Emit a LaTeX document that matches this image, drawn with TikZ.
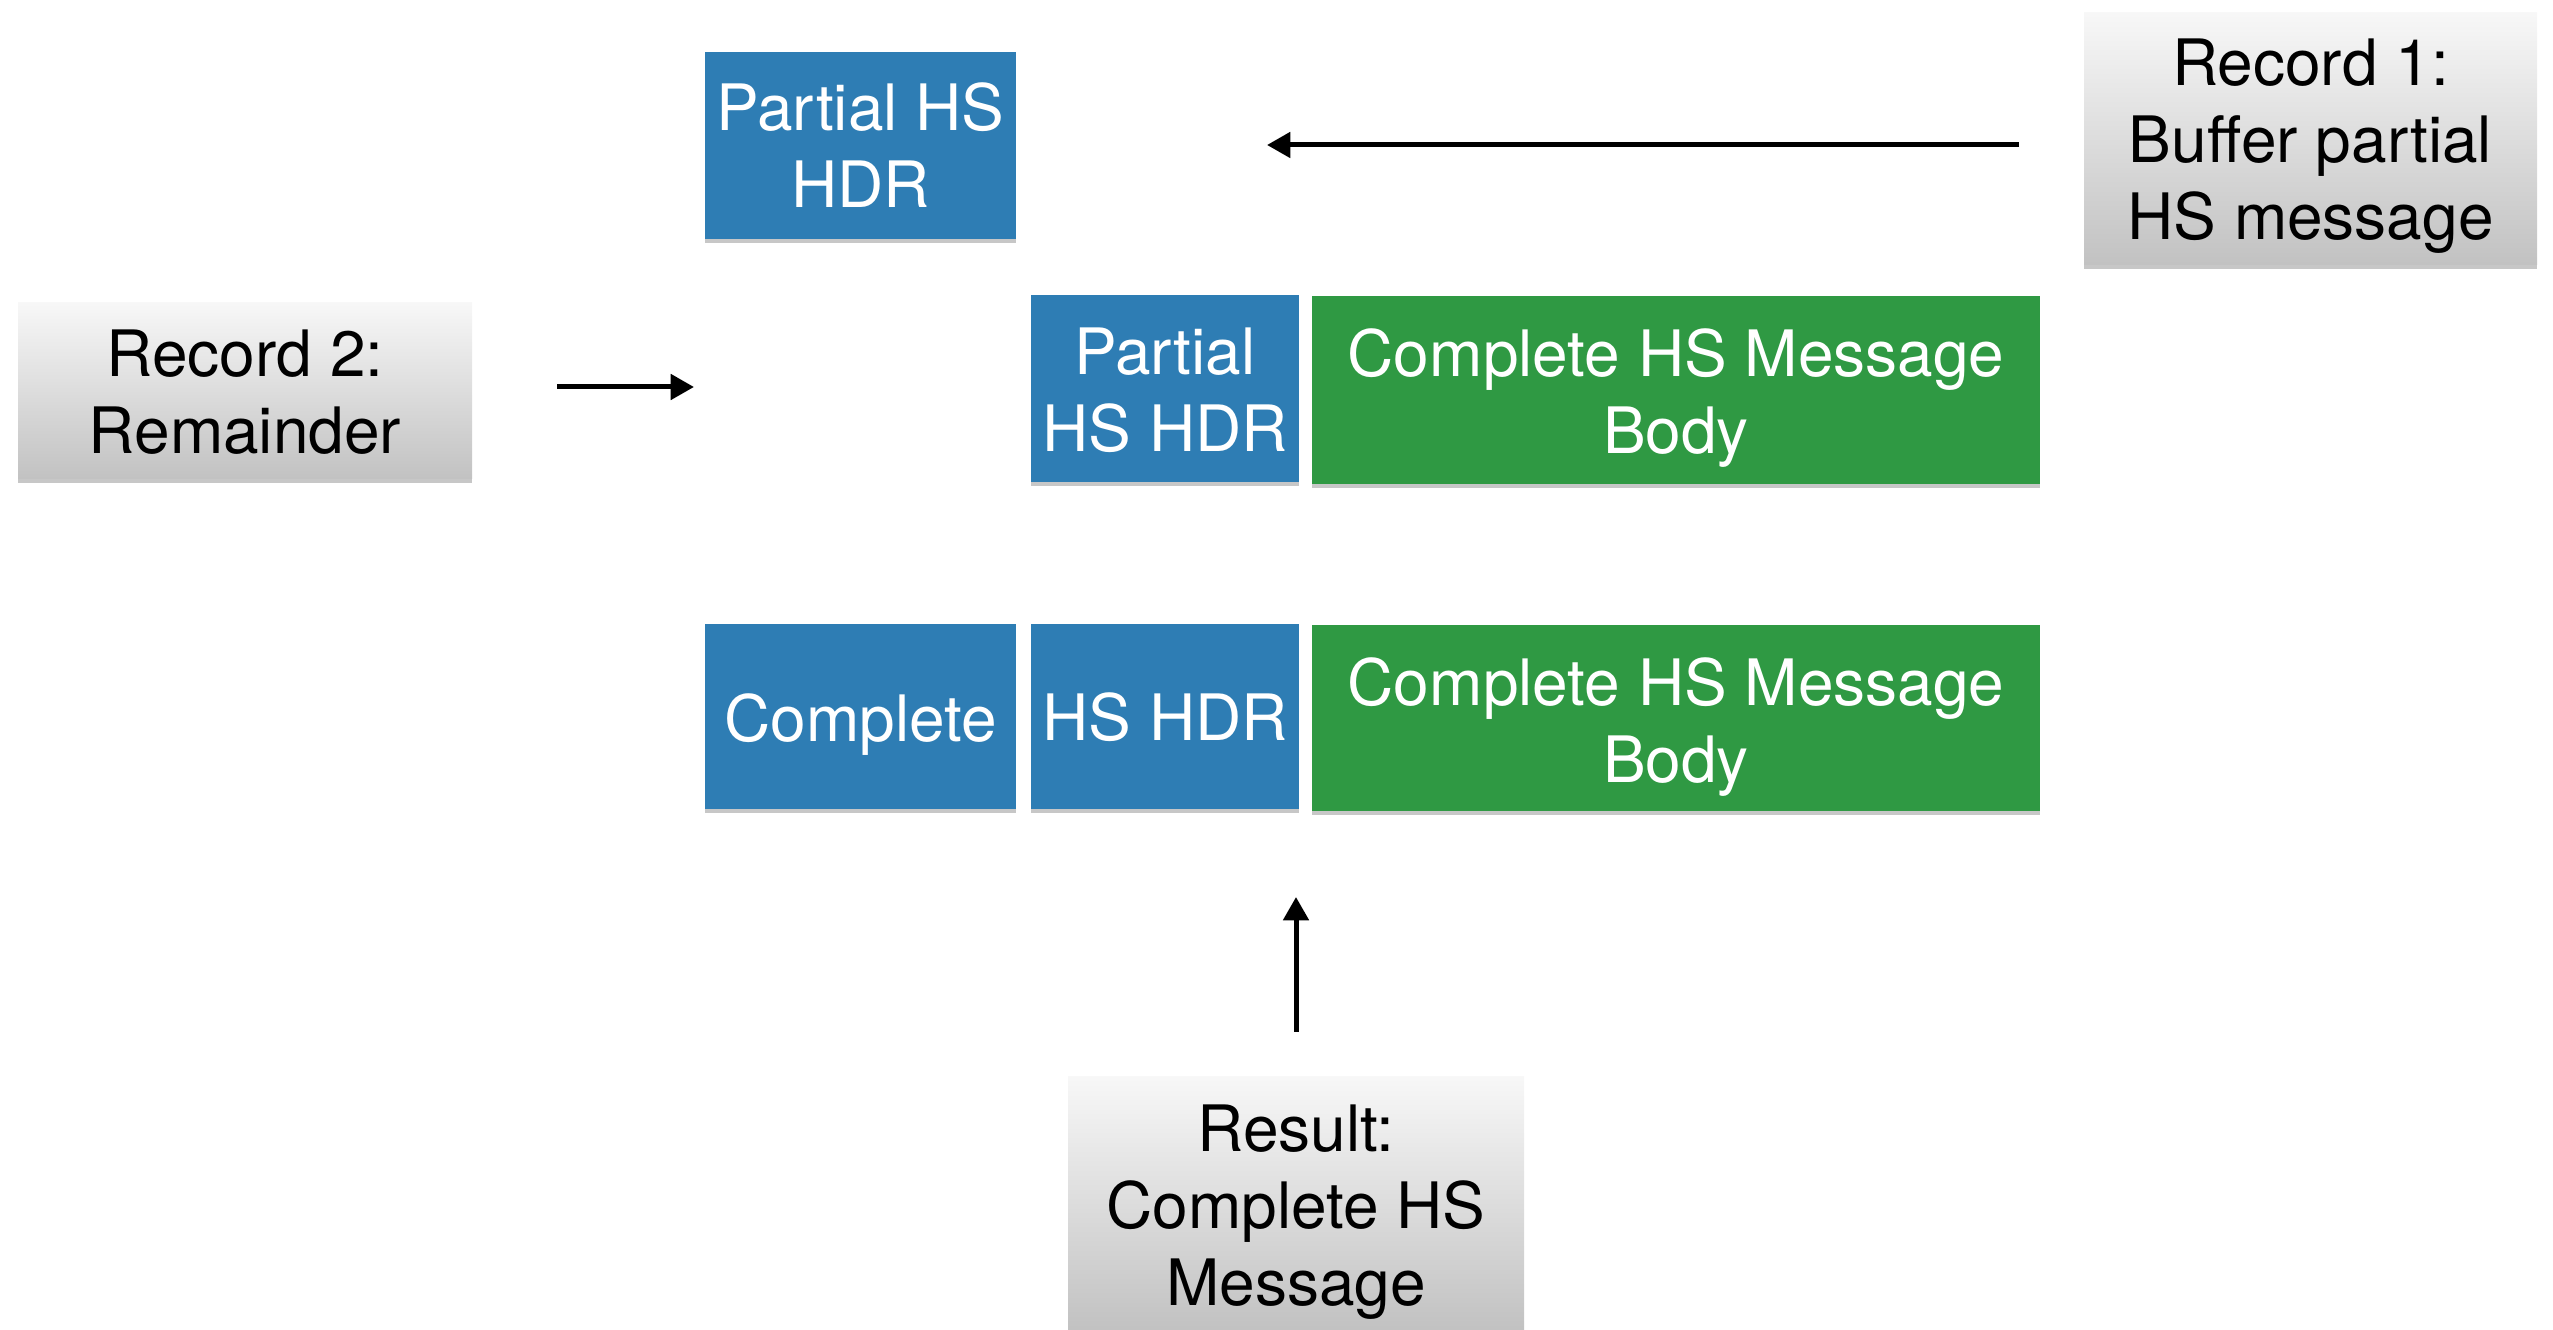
\documentclass[tikz,border=0pt]{standalone}
\usepackage{fontspec}
\setmainfont{TeX Gyre Heros}
\usetikzlibrary{arrows.meta,shadows}
\definecolor{hsblue}{RGB}{46,125,180}
\definecolor{hsgreen}{RGB}{47,153,67}
\newcommand\lowtxt[2][2.8pt]{\raisebox{-#1}[\height][\depth]{\begin{tabular}{@{}c@{}}#2\end{tabular}}}
\begin{document}
\begin{tikzpicture}[x=0.3pt,y=-0.3pt,
  txt/.style={font=\fontsize{19.2}{23.1}\selectfont, align=center, inner sep=0pt},
  softshadow/.style={drop shadow={shadow xshift=0pt, shadow yshift=-1.1pt, opacity=0.22, fill=black}},
  bluebox/.style={txt, fill=hsblue, text=white, draw=none, softshadow},
  greenbox/.style={txt, fill=hsgreen, text=white, draw=none, softshadow},
  graybox/.style={txt, top color=black!3, bottom color=black!24, draw=none, text=black, softshadow},
  arr/.style={-{Triangle[length=7pt,width=7.5pt]}, line width=1.5pt, black}
]
\useasboundingbox (0,0) rectangle (2553,1330);
% top row
\node[bluebox, minimum width=311*0.3pt, minimum height=187*0.3pt] (phs) at (860.5,145.5) {\lowtxt[2.5pt]{Partial HS\\HDR}};
\node[graybox, minimum width=453*0.3pt, minimum height=252*0.3pt] (rec1) at (2310.5,139) {\lowtxt[2.3pt]{Record 1:\\Buffer partial\\HS message}};
% second row
\node[graybox, minimum width=454*0.3pt, minimum height=176*0.3pt] (rec2) at (245,391) {\lowtxt[2.6pt]{Record 2:\\Remainder}};
\node[bluebox, minimum width=268*0.3pt, minimum height=187*0.3pt] (phdr) at (1165,388.5) {\lowtxt[2.7pt]{Partial\\HS HDR}};
\node[greenbox, minimum width=728*0.3pt, minimum height=188*0.3pt] (body1) at (1676,390) {\lowtxt[2.9pt]{Complete HS Message\\Body}};
% third row
\node[bluebox, minimum width=311*0.3pt, minimum height=185*0.3pt] (cmp) at (860.5,716.5) {\lowtxt[3pt]{Complete}};
\node[bluebox, minimum width=268*0.3pt, minimum height=185*0.3pt] (hdr) at (1165,716.5) {\lowtxt[2.6pt]{HS HDR}};
\node[greenbox, minimum width=728*0.3pt, minimum height=186*0.3pt] (body2) at (1676,718) {\lowtxt[3.3pt]{Complete HS Message\\Body}};
% result
\node[graybox, minimum width=456*0.3pt, minimum height=252*0.3pt] (res) at (1296,1203) {\lowtxt[2.9pt]{Result:\\Complete HS\\Message}};
% arrow coordinates
\coordinate (a1s) at (2019,145);
\coordinate (a1e) at (1267,145);
\coordinate (a2s) at (557,387);
\coordinate (a2e) at (694,387);
\coordinate (a3s) at (1296,1032);
\coordinate (a3e) at (1296,897);
\draw[arr] (a1s) -- (a1e);
\draw[arr] (a2s) -- (a2e);
\draw[arr] (a3s) -- (a3e);
\end{tikzpicture}
\end{document}
